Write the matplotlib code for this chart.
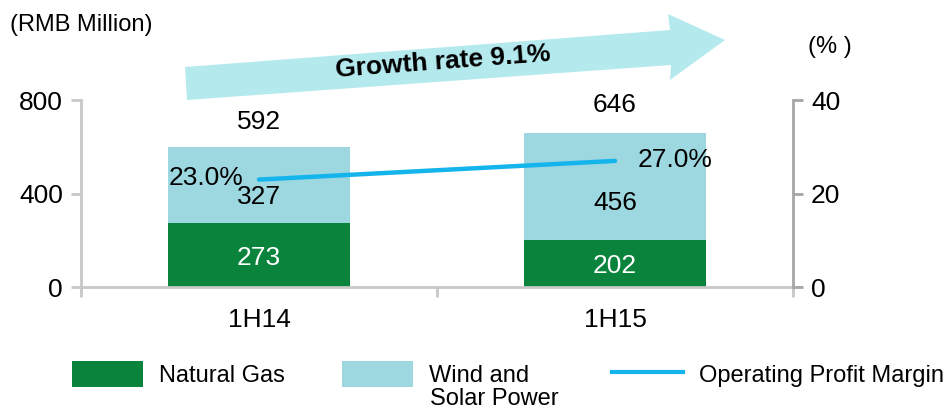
import numpy as np
import matplotlib
matplotlib.use("Agg")
from matplotlib import pyplot as plt
from matplotlib.patches import Polygon, Patch
from matplotlib.lines import Line2D

plt.rcParams['font.family'] = ['Liberation Sans', 'DejaVu Sans']

periods = ['1H14', '1H15']
natural_gas = [273, 202]
wind_solar = [327, 456]
totals = [592, 646]
margin = [23.0, 27.0]
growth_label = 'Growth rate 9.1%'

green = '#0a843c'
light_blue = '#9dd7df'
line_blue = '#14b4ec'
arrow_fill = '#b4e9ee'
fs = 19

fig = plt.figure(figsize=(9.45, 4.09), dpi=100)
ax = fig.add_axes([0.0857, 0.298, 0.7535, 0.4572])
x = np.arange(len(periods))
w = 0.51

ax.bar(x, natural_gas, w, color=green, zorder=2)
ax.bar(x, wind_solar, w, bottom=natural_gas, color=light_blue, zorder=2)

ax.set_xlim(-0.5, 1.5)
ax.set_ylim(0, 800)
ax.set_yticks([0, 400, 800])
ax.set_xticks([-0.5, 0.5, 1.5])
ax.set_xticklabels([])
ax.set_xticks(x, minor=True)
ax.set_xticklabels(periods, minor=True, fontsize=fs)
ax.tick_params(axis='x', which='minor', length=0, pad=15)
ax.tick_params(axis='x', which='major', length=7, width=2, color='#c8c8c8')
ax.tick_params(axis='y', length=7, width=2, color='#c8c8c8', labelsize=fs, pad=6)
for s in ['top', 'right']:
    ax.spines[s].set_visible(False)
for s in ['left', 'bottom']:
    ax.spines[s].set_color('#c8c8c8')
    ax.spines[s].set_linewidth(2)

# value labels
for i in range(len(periods)):
    ax.text(x[i], natural_gas[i] / 2 - 10, str(natural_gas[i]), ha='center', va='center',
            color='white', fontsize=fs)
ax.text(x[0], natural_gas[0] + wind_solar[0] / 2 - 53, str(wind_solar[0]), ha='center',
        va='center', fontsize=fs)
ax.text(x[1], natural_gas[1] + wind_solar[1] / 2 - 70, str(wind_solar[1]), ha='center',
        va='center', fontsize=fs)
ax.text(x[0], totals[0] + 115, str(totals[0]), ha='center', va='center', fontsize=fs)
ax.text(x[1], totals[1] + 133, str(totals[1]), ha='center', va='center', fontsize=fs)

ax2 = ax.twinx()
ax2.set_ylim(0, 40)
ax2.set_yticks([0, 20, 40])
ax2.plot(x, margin, color=line_blue, lw=3.2, solid_capstyle='round', zorder=3)
ax2.text(x[0] - 0.15, margin[0] + 0.4, '%.1f%%' % margin[0], ha='center', va='center', fontsize=fs)
ax2.text(x[1] + 0.17, margin[1] + 0.2, '%.1f%%' % margin[1], ha='center', va='center', fontsize=fs)
for s in ['top', 'left', 'bottom']:
    ax2.spines[s].set_visible(False)
ax2.spines['right'].set_color('#a6a6a6')
ax2.spines['right'].set_linewidth(2)
ax2.tick_params(axis='y', length=7, width=2, color='#a6a6a6', labelsize=fs, pad=6)

fig.text(10 / 945, 1 - 25 / 409, '(RMB Million)', fontsize=17, va='center', ha='left')
fig.text(808 / 945, 1 - 47 / 409, '(% )', fontsize=17, va='center', ha='left')

# growth arrow (pixel coords -> figure fraction)
pts = [(185, 67), (670, 30), (668, 14), (725, 40), (670, 80), (671, 65), (187, 100)]
pts = [(px / 945, 1 - py / 409) for px, py in pts]
fig.patches.append(Polygon(pts, closed=True, transform=fig.transFigure, facecolor=arrow_fill,
                           edgecolor='none', zorder=1))
fig.text(443 / 945, 1 - 62 / 409, growth_label, fontsize=19, fontweight='bold',
         ha='center', va='center', rotation=4.3)

# legend, one entry each so the handles sit where they do in the source
leg_kw = dict(loc='center left', frameon=False, fontsize=17, handlelength=3.0,
              handleheight=1.3, handletextpad=0.7, borderpad=0, borderaxespad=0)
fig.legend([Patch(facecolor=green)], ['Natural Gas'],
           bbox_to_anchor=(72 / 945, 1 - 374 / 409), **leg_kw)
fig.legend([Patch(facecolor=light_blue)], ['Wind and'],
           bbox_to_anchor=(342 / 945, 1 - 374 / 409), **leg_kw)
fig.text(430 / 945, 1 - 399 / 409, 'Solar Power', fontsize=17, va='center', ha='left')
fig.legend([Line2D([], [], color=line_blue, lw=3)], ['Operating Profit Margin'],
           bbox_to_anchor=(612 / 945, 1 - 374 / 409), **leg_kw)

fig.savefig('out.png', dpi=100)
